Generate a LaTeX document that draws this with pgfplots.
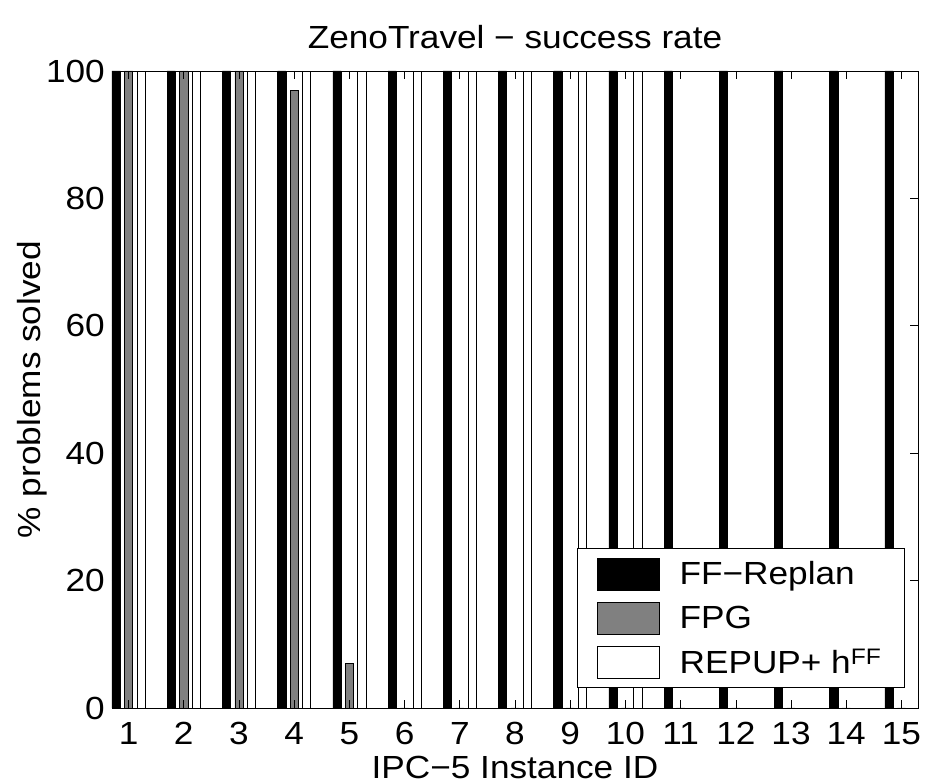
\documentclass[border=0pt]{standalone}
\usepackage{pgfplots}
\pgfplotsset{compat=1.18}
\usepackage{fontspec}
\setmainfont{Liberation Sans}[FakeStretch=1.1]
\definecolor{fpggray}{RGB}{128,128,128}
\newcommand{\bigf}{\fontsize{32}{38}\selectfont}
\begin{document}
\begin{tikzpicture}
\begin{axis}[
  scale only axis,
  width=806pt, height=637pt,
  xmin=0.7, xmax=15.3, ymin=0, ymax=100,
  ybar, bar width=0.15,
  xtick={1,2,...,15}, ytick={0,20,...,100},
  xtick pos=both, ytick pos=both,
  tick align=inside,
  major tick length=8pt,
  tick style={black, line width=0.6pt},
  axis line style={black, line width=0.8pt},
  /pgf/number format/assume math mode=true,
  tick label style={font=\bigf},
  xticklabel style={anchor=base, yshift=-37pt},
  yticklabel style={anchor=east, inner xsep=7pt},
  title={ZenoTravel − success rate},
  title style={font=\bigf, at={(axis description cs:0.5,1.026)}, anchor=base},
  xlabel={IPC−5 Instance ID},
  xlabel style={font=\bigf, at={(axis description cs:0.5,-0.1099)}, anchor=base},
  ylabel={\% problems solved},
  ylabel style={font=\bigf, at={(axis description cs:-0.0893,0.5)}, anchor=base, rotate=0},
  legend image code/.code={\draw[#1] (0pt,-16pt) rectangle (62pt,16pt);},
  legend style={at={(rel axis cs:0.9839,0.0314)}, anchor=south east,
    draw=black, line width=0.8pt, fill=white, font=\bigf,
    inner xsep=20pt, inner ysep=9pt, row sep=11.5pt,
    /tikz/every odd column/.append style={column sep=18pt}},
  legend cell align=left,
  axis on top,
]
\addplot[fill=black, draw=black, line width=0.6pt, bar shift=-0.225]
  coordinates {(1,100) (2,100) (3,100) (4,100) (5,100) (6,100) (7,100) (8,100)
               (9,100) (10,100) (11,100) (12,100) (13,100) (14,100) (15,100)};
\addplot[fill=fpggray, draw=black, line width=0.6pt, bar shift=0]
  coordinates {(1,100) (2,100) (3,100) (4,97) (5,7) (6,0) (7,0) (8,0)
               (9,0) (10,0) (11,0) (12,0) (13,0) (14,0) (15,0)};
\addplot[fill=white, draw=black, line width=0.6pt, bar shift=0.225]
  coordinates {(1,100) (2,100) (3,100) (4,100) (5,100) (6,100) (7,100) (8,100)
               (9,100) (10,100) (11,0) (12,0) (13,0) (14,0) (15,0)};
\legend{\makebox[203pt][l]{FF−Replan}, FPG, REPUP+ h\textsuperscript{FF}}
\end{axis}
\pgfresetboundingbox
\path[use as bounding box] (-112pt,-75pt) rectangle (813pt,708pt);
\end{tikzpicture}
\end{document}
